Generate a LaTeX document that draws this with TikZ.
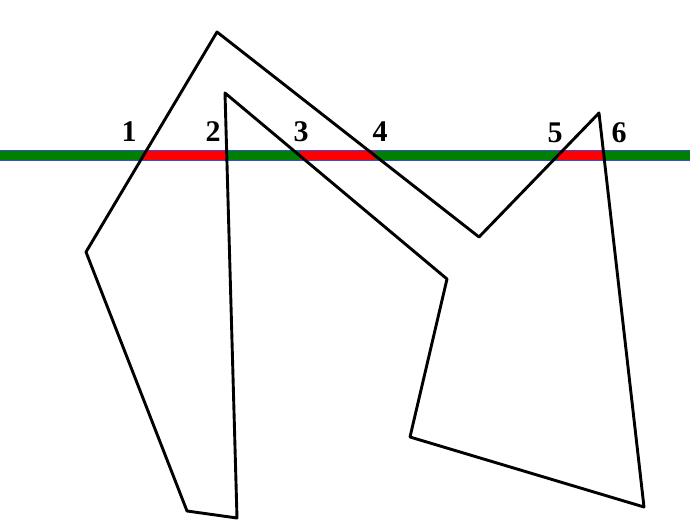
\documentclass[tikz,border=0pt]{standalone}
\usepackage{fontspec}
\setmainfont{Liberation Serif}
\usetikzlibrary{arrows,intersections}
\definecolor{qqcqq}{rgb}{0,0.5,0}
\definecolor{ffqqqq}{rgb}{1,0,0}
\definecolor{qqqqff}{rgb}{0.2,0.3,0.9}

\begin{document}
\begin{tikzpicture}[line cap=round,line join=round,x=1pt,y=-1pt,
	num/.style={font=\fontsize{30}{30}\selectfont\bfseries,inner sep=0pt}]
	\useasboundingbox (0,0) rectangle (690,521);
	% polygon corners
	\coordinate (A) at (217,32);
	\coordinate (B) at (86,252);
	\coordinate (C) at (187,511);
	\coordinate (D) at (237,518);
	\coordinate (E) at (225,93);
	\coordinate (F) at (447,279);
	\coordinate (G) at (410,437);
	\coordinate (H) at (644,507);
	\coordinate (I) at (599,113);
	\coordinate (J) at (479,237);
	% the line
	\coordinate (top) at (0,150.5);
	\coordinate (topr) at (690,150.5);
	\coordinate (bot) at (0,160.5);
	\coordinate (botr) at (690,160.5);
	\path[name path=axis] (0,155.5) -- (690,155.5);
	\path[name path=poly] (A) -- (B) -- (C) -- (D) -- (E) -- (F) -- (G) -- (H) -- (I) -- (J) -- cycle;
	\path[name intersections={of=poly and axis,name=p,sort by=axis}];
	\fill[color=qqcqq] (top) rectangle (botr);
	\foreach \i/\j in {1/2,3/4,5/6}
	\fill[color=ffqqqq] (p-\i |- top) rectangle (p-\j |- bot);
	\draw[color=qqqqff,line width=0.6pt] (top) -- (topr);
	\draw[color=qqqqff,line width=0.6pt] (bot) -- (botr);
	\draw[line width=2.9pt] (A) -- (B) -- (C) -- (D) -- (E) -- (F) -- (G) -- (H) -- (I) -- (J) -- cycle;
	\foreach \k/\x/\y in {1/129/132,2/213/132,3/301/132,4/380/132,5/555/133,6/619/133}
	\node[num] (n\k) at (\x,\y) {\k};
\end{tikzpicture}
\end{document}
